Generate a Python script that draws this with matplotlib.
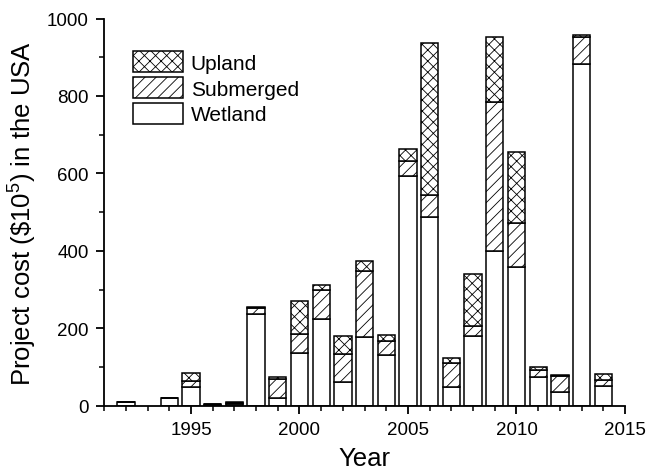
import matplotlib
matplotlib.use("Agg")
import matplotlib.pyplot as plt
import numpy as np
from matplotlib.patches import Patch
from matplotlib.ticker import MultipleLocator

plt.rcParams["font.family"] = ["Liberation Sans", "DejaVu Sans"]
plt.rcParams["mathtext.fontset"] = "custom"
plt.rcParams["mathtext.rm"] = "Liberation Sans"
plt.rcParams["mathtext.it"] = "Liberation Sans"
plt.rcParams["hatch.linewidth"] = 0.6

# 数据（从图上读取，单位 $10^5）
years = [1992, 1994, 1995, 1996, 1997, 1998, 1999, 2000, 2001, 2002, 2003,
         2004, 2005, 2006, 2007, 2008, 2009, 2010, 2011, 2012, 2013, 2014]
wetland = [10, 19, 48, 3, 4, 236, 20, 137, 225, 61, 177,
           130, 592, 487, 49, 179, 399, 357, 75, 35, 882, 52]
submerged = [0, 0, 15, 0.5, 4, 16, 49, 49, 73, 72, 171,
             38, 39, 56, 61, 28, 385, 116, 18, 41, 71, 14]
upland = [0, 0, 22, 0, 0.5, 4, 6, 85, 15, 48, 25,
          15, 32, 395, 14, 134, 169, 181, 8, 4, 5, 16]

years = np.array(years)
wetland = np.array(wetland, dtype=float)
submerged = np.array(submerged, dtype=float)
upland = np.array(upland, dtype=float)

fig = plt.figure(figsize=(6.47, 4.77), dpi=100)
ax = fig.add_axes([0.161, 0.1474, 0.805, 0.8117])

w = 0.8
ax.bar(years, wetland, w, color="white", edgecolor="black", lw=1.1)
ax.bar(years, submerged, w, bottom=wetland, color="white",
       edgecolor="black", lw=1.1, hatch="///")
ax.bar(years, upland, w, bottom=wetland + submerged, color="white",
       edgecolor="black", lw=1.1, hatch="xxx")

ax.set_xlim(1991, 2015)
ax.set_ylim(0, 1000)
ax.set_xticks([1995, 2000, 2005, 2010, 2015])
ax.xaxis.set_minor_locator(MultipleLocator(1))
ax.yaxis.set_major_locator(MultipleLocator(200))
ax.yaxis.set_minor_locator(MultipleLocator(100))
ax.spines["top"].set_visible(False)
ax.spines["right"].set_visible(False)
for s in ["left", "bottom"]:
    ax.spines[s].set_linewidth(1.3)
ax.tick_params(which="major", direction="out", length=6, width=1.3,
               labelsize=13.5, pad=5)
ax.tick_params(which="minor", direction="out", length=3.5, width=1.1)

ax.set_xlabel("Year", fontsize=18.5, labelpad=6)
ax.set_ylabel(r"Project cost (\$10$^5$) in the USA", fontsize=18.5, labelpad=6)

handles = [Patch(facecolor="white", edgecolor="black", lw=1.1, hatch="xxx", label="Upland"),
           Patch(facecolor="white", edgecolor="black", lw=1.1, hatch="///", label="Submerged"),
           Patch(facecolor="white", edgecolor="black", lw=1.1, label="Wetland")]
ax.legend(handles=handles, loc="upper left", bbox_to_anchor=(0.056, 0.916),
          frameon=False, fontsize=15, handlelength=2.4, handleheight=1.2,
          labelspacing=0.2, handletextpad=0.35, borderaxespad=0, borderpad=0)

fig.savefig("out.png", dpi=100)
